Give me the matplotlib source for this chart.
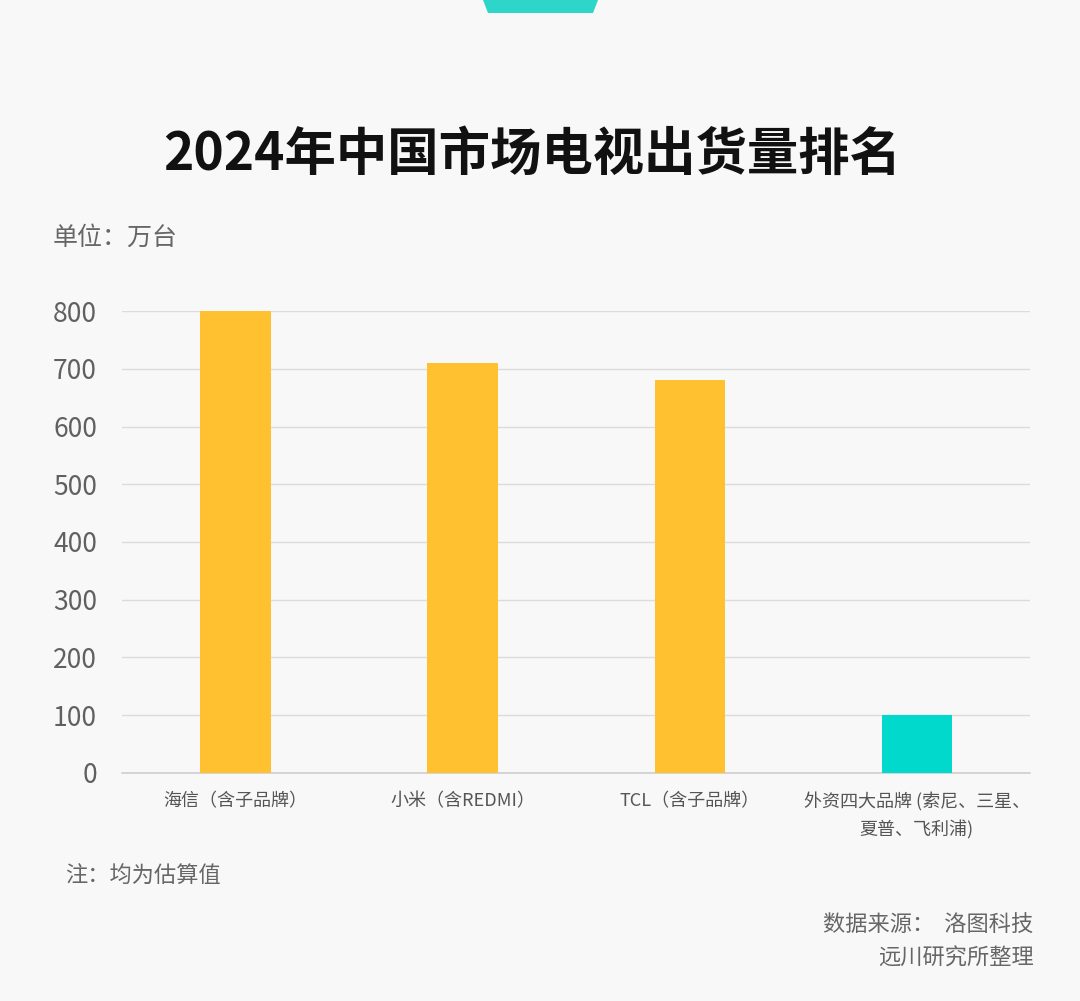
import matplotlib.pyplot as plt
from matplotlib.patches import Polygon

plt.rcParams['font.family'] = ['Noto Sans CJK SC', 'DejaVu Sans']

# 데이터
brands = ['海信（含子品牌）', '小米（含REDMI）', 'TCL（含子品牌）', '外资四大品牌 (索尼、三星、\n夏普、飞利浦)']
shipments = [800, 710, 680, 100]
bar_colors = ['#FFC12F', '#FFC12F', '#FFC12F', '#00D9CC']
yticks = [0, 100, 200, 300, 400, 500, 600, 700, 800]

bg = '#f8f8f8'
fig = plt.figure(figsize=(10.8, 10.01), dpi=100, facecolor=bg)
ax = fig.add_axes([0.113, 0.2278, 0.841, 0.4615], facecolor=bg)

x = range(len(brands))
ax.bar(x, shipments, width=0.31, color=bar_colors, zorder=3)

ax.set_xlim(-0.5, 3.5)
ax.set_ylim(0, 800)
ax.set_yticks(yticks)
ax.grid(axis='y', color='#dcdcdc', linewidth=1, zorder=0)
for s in ['top', 'right', 'left']:
    ax.spines[s].set_visible(False)
ax.spines['bottom'].set_color('#cfcfcf')
ax.spines['bottom'].set_linewidth(1.2)

ax.set_xticks(list(x))
ax.set_xticklabels(brands, fontsize=13, color='#555555', linespacing=1.6, va='top')
ax.tick_params(axis='x', length=0, pad=14)
ax.tick_params(axis='y', length=0, pad=18, labelsize=19, labelcolor='#606060')

# 제목, 텍스트
fig.text(0.493, 0.846, '2024年中国市场电视出货量排名', ha='center', va='center',
         fontsize=37, fontweight='bold', color='#111111')
fig.text(0.049, 0.762, '单位：万台', ha='left', va='center', fontsize=18, color='#666666')
fig.text(0.060, 0.125, '注：均为估算值', ha='left', va='center', fontsize=16, color='#666666')
fig.text(0.957, 0.076, '数据来源：  洛图科技', ha='right', va='center', fontsize=16, color='#666666')
fig.text(0.957, 0.043, '远川研究所整理', ha='right', va='center', fontsize=16, color='#666666')

# 위쪽 장식
trap = Polygon([[483/1080, 1.0], [598/1080, 1.0], [593/1080, 1-13/1001], [488/1080, 1-13/1001]],
               closed=True, transform=fig.transFigure, facecolor='#2dd6c8', edgecolor='none')
fig.patches.append(trap)

fig.savefig('out.png', dpi=100, facecolor=bg)
